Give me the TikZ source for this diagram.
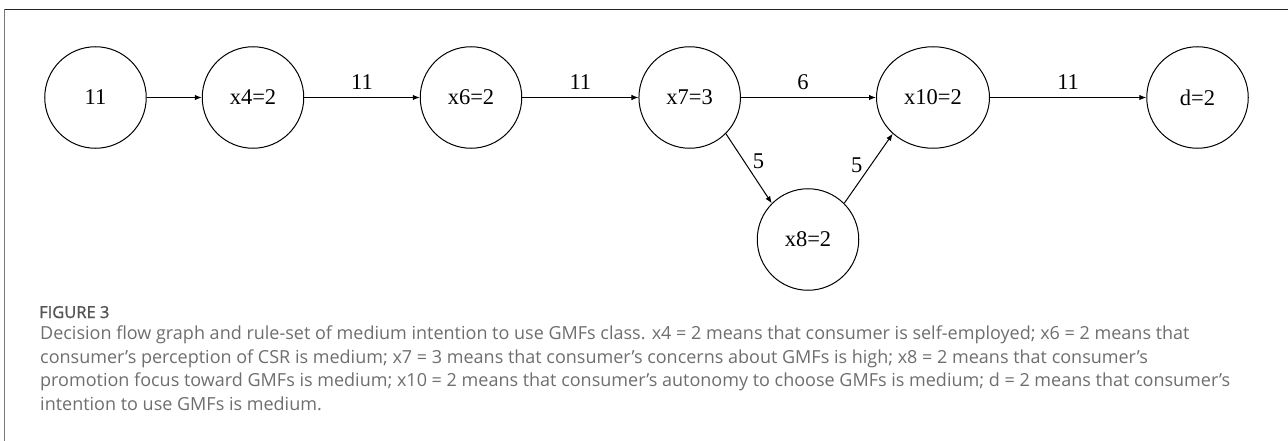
\documentclass[tikz,border=0pt]{standalone}
\usepackage{fontspec}
\setmainfont{Liberation Serif}
\newfontfamily\capfont{Open Sans}
\newfontfamily\figfont[FakeBold=1.2]{Open Sans}
\definecolor{CapGray}{RGB}{110,110,110}
\definecolor{FigGray}{RGB}{85,85,85}
\definecolor{FrameGray}{RGB}{120,120,120}
\usepackage{tikz}
\usetikzlibrary{arrows.meta, shapes.geometric, positioning}
\tikzset{
  vtx/.style={circle, draw, line width=1pt, minimum size=101.5pt, inner sep=0pt,
              font=\fontsize{22.5}{26}\selectfont},
  flow/.style={draw, line width=1pt, -{Latex[length=7pt,width=5.5pt]}},
  wgt/.style={inner sep=0pt, font=\fontsize{22.5}{26}\selectfont},
  capline/.style={anchor=base west, inner sep=0pt, text=CapGray,
                  font=\capfont\fontsize{18}{20}\selectfont},
}

\begin{document}
\begin{tikzpicture}[x=1pt, y=-1pt]
  \useasboundingbox (0,0) rectangle (1288,441);
  % frame
  \draw[line width=0.9pt, black!85] (4.3,9.3) -- (1288,9.3);
  \draw[line width=0.9pt, FrameGray] (4.3,9.3) -- (4.3,441);

  % decision flow graph
  \node[vtx] (root) at (95.5,97.5) {11};
  \node[vtx] (x4) at (253,97.5) {x4=2};
  \node[vtx] (x6) at (471,97.5) {x6=2};
  \node[vtx] (x7) at (689.7,97.5) {x7=3};
  \node[vtx, ellipse, minimum width=113pt] (x10) at (933,97.5) {x10=2};
  \node[vtx] (d) at (1197.5,97.5) {d=2};
  \node[vtx] (x8) at (808,239.5) {x8=2};

  \draw[flow] (root) -- (x4);
  \draw[flow] (x4) -- node[wgt, above=7pt] {11} (x6);
  \draw[flow] (x6) -- node[wgt, above=7pt] {11} (x7);
  \draw[flow] (x7) -- node[wgt, pos=0.46, above=7pt] {6} (x10);
  \draw[flow] (x10) -- node[wgt, above=7pt] {11} (d);
  \draw[flow] (x7.south east) -- node[wgt, pos=0.4, right=8pt] {5} (x8.north west);
  \draw[flow] (x8.north east) -- node[wgt, pos=0.55, left=8pt] {5} (x10.south west);

  % caption
  \node[anchor=base west, inner sep=0pt, text=FigGray,
        font=\figfont\fontsize{16.5}{18}\selectfont] (figno) at (39,318) {FIGURE 3};
  \node[capline] (capA) at (40,339.5) {Decision flow graph and rule-set of medium intention to use GMFs class. x4 = 2 means that consumer is self-employed; x6 = 2 means that};
  \node[capline] (capB) at (40,363) {consumer’s perception of CSR is medium; x7 = 3 means that consumer’s concerns about GMFs is high; x8 = 2 means that consumer’s};
  \node[capline] (capC) at (40,386.5) {promotion focus toward GMFs is medium; x10 = 2 means that consumer’s autonomy to choose GMFs is medium; d = 2 means that consumer’s};
  \node[capline] (capD) at (40,410) {intention to use GMFs is medium.};
\end{tikzpicture}
\end{document}
